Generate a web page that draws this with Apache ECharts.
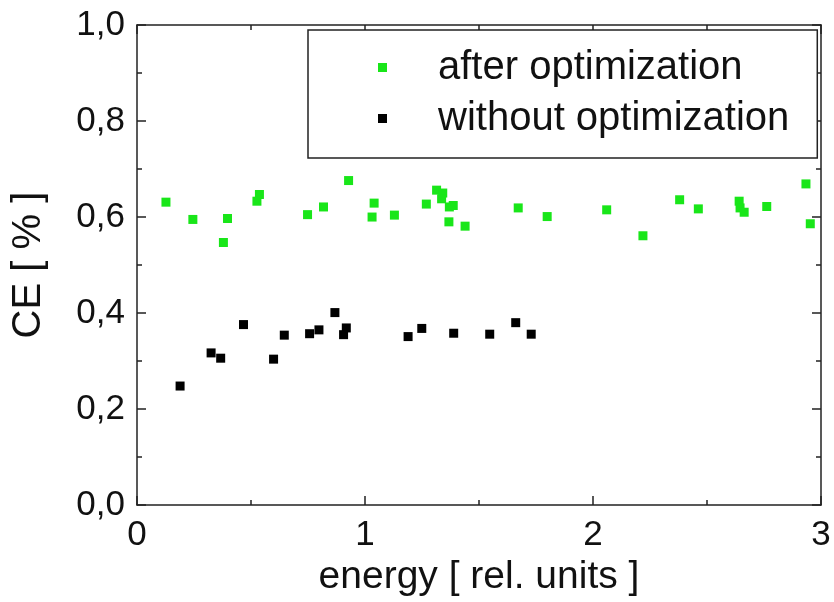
<!DOCTYPE html>
<html>
  <head>
    <meta charset="utf-8" />
    <script src="https://cdn.jsdelivr.net/npm/echarts@6/dist/echarts.min.js"></script>
  </head>
  <body style="margin:0;background:#fff;">
    <div id="main" style="width:834px;height:602px;"></div>
    <script type="text/javascript">
var afterX = [0.127, 0.245, 0.397, 0.379, 0.526, 0.537, 0.748, 0.818, 0.928, 1.040, 1.031, 1.129, 1.269,
              1.314, 1.341, 1.336, 1.370, 1.387, 1.368, 1.439,
              1.672, 1.799, 2.060, 2.219, 2.380, 2.462, 2.641, 2.645, 2.663, 2.762, 2.934, 2.953];
var afterY = [0.631, 0.595, 0.597, 0.547, 0.633, 0.647, 0.605, 0.621, 0.676, 0.629, 0.600, 0.604, 0.627,
              0.656, 0.650, 0.638, 0.621, 0.624, 0.590, 0.581,
              0.619, 0.601, 0.615, 0.561, 0.636, 0.617, 0.633, 0.619, 0.610, 0.622, 0.669, 0.586];
var withoutX = [0.189, 0.325, 0.367, 0.467, 0.599, 0.646, 0.757, 0.798, 0.868, 0.918, 0.906,
                1.189, 1.249, 1.389, 1.547, 1.661, 1.729];
var withoutY = [0.248, 0.317, 0.306, 0.376, 0.304, 0.354, 0.357, 0.365, 0.401, 0.369, 0.355,
                0.351, 0.368, 0.358, 0.356, 0.380, 0.356];

var seriesNames = ['after optimization', 'without optimization'];
var font = 'Liberation Sans, Arial, sans-serif';

function pairs(xs, ys) {
    return xs.map(function (x, i) { return [x, ys[i]]; });
}

var myChart = echarts.init(document.getElementById('main'));

// axis lines and inside ticks, same on all four sides of the box
var lineStyle = { color: '#222', width: 1.5 };
var tickStyle = { color: '#222', width: 1.5 };
function frameAxis(extra) {
    var a = {
        type: 'value',
        axisLine: { show: true, onZero: false, lineStyle: lineStyle },
        axisTick: { show: true, inside: true, length: 9, lineStyle: tickStyle },
        minorTick: { show: true, splitNumber: 2, length: 5, lineStyle: tickStyle },
        splitLine: { show: false },
        axisLabel: { show: false }
    };
    for (var k in extra) a[k] = extra[k];
    return a;
}

var option = {
    animation: false,
    backgroundColor: '#fff',
    textStyle: { fontFamily: font },
    grid: { left: 137, right: 13, top: 25, bottom: 96 },
    legend: {
        left: 308, top: 30,
        orient: 'vertical',
        backgroundColor: '#fff',
        borderColor: '#222', borderWidth: 1.5,
        padding: [12, 28, 14, 70],
        itemGap: 0,
        itemWidth: 9, itemHeight: 9,
        icon: 'rect',
        textStyle: { fontSize: 40, lineHeight: 51, color: '#111', padding: [0, 0, 0, 46] },
        data: seriesNames
    },
    xAxis: [
        frameAxis({
            min: 0, max: 3, interval: 1, position: 'bottom',
            name: 'energy [ rel. units ]', nameLocation: 'middle', nameGap: 51,
            nameTextStyle: { fontSize: 39, color: '#111' },
            axisLabel: { show: true, fontSize: 35, color: '#111', margin: 13 }
        }),
        frameAxis({ min: 0, max: 3, interval: 1, position: 'top' })
    ],
    yAxis: [
        frameAxis({
            min: 0, max: 1, interval: 0.2, position: 'left',
            name: 'CE [ % ]', nameLocation: 'middle', nameGap: 88,
            nameTextStyle: { fontSize: 40, color: '#111' },
            axisLabel: {
                show: true, fontSize: 35, color: '#111', margin: 12,
                formatter: function (v) { return v.toFixed(1).replace('.', ','); }
            }
        }),
        frameAxis({ min: 0, max: 1, interval: 0.2, position: 'right' })
    ],
    series: [{
        name: seriesNames[0], type: 'scatter',
        symbol: 'rect', symbolSize: 9,
        itemStyle: { color: '#19e619', opacity: 1 },
        data: pairs(afterX, afterY)
    }, {
        name: seriesNames[1], type: 'scatter',
        symbol: 'rect', symbolSize: 9,
        itemStyle: { color: '#000', opacity: 1 },
        data: pairs(withoutX, withoutY)
    }]
};

myChart.setOption(option);
    </script>
  </body>
</html>
